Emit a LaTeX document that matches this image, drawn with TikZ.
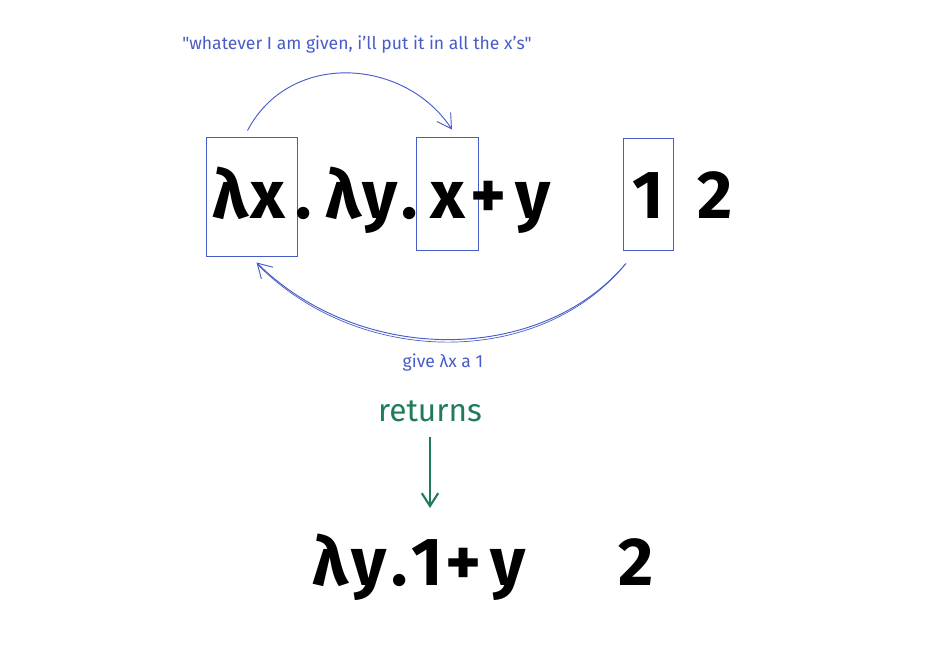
\documentclass[tikz,border=0pt]{standalone}
\usepackage{fontspec}
\setmainfont{Fira Sans}
\usetikzlibrary{arrows.meta,calc}
\definecolor{sketchblue}{RGB}{72,92,200}
\definecolor{sketchgreen}{RGB}{30,125,88}
\tikzset{
  big/.style={font=\fontsize{58}{58}\selectfont\bfseries, inner sep=0pt, anchor=base, text=black},
  holder/.style={draw=sketchblue, line width=0.8pt, inner sep=0pt},
  note/.style={font=\fontsize{15}{17}\selectfont, text=sketchblue, inner sep=1pt},
  link/.style={draw=sketchblue, line width=0.8pt, -{Straight Barb[length=12pt,width=14pt,line width=0.8pt]}},
  ret/.style={draw=sketchgreen, line width=1.8pt, -{Straight Barb[length=11pt,width=14pt,line width=1.8pt]}}
}
\begin{document}
\begin{tikzpicture}[x=0.03cm,y=-0.03cm]
\useasboundingbox (0,0) rectangle (940,670);
% boxes
\node[holder, minimum width=2.73cm, minimum height=3.57cm] (b1) at (251.5,196.5) {};
\node[holder, minimum width=1.86cm, minimum height=3.39cm] (b2) at (447,193.5) {};
\node[holder, minimum width=1.5cm, minimum height=3.36cm] (b3) at (648,194) {};
% top expression
\node[big] (t1) at (230,218) {λ};
\node[big] (t2) at (268,218) {x};
\node[big] (t3) at (304,218) {.};
\node[big] (t4) at (343,218) {λ};
\node[big] (t5) at (380,218) {y};
\node[big] (t6) at (410,218) {.};
\node[big] (t7) at (448,218) {x};
\node[big] (t8) at (489,218) {+};
\node[big] (t9) at (533,218) {y};
\node[big] (t10) at (648,218) {1};
\node[big] (t11) at (715,218) {2};
% labels
\node[note] (lt) at (357,45) {\textquotedbl whatever I am given, i'll put it in all the x's\textquotedbl};
\node[note] (lb) at (443,363) {give λx a 1};
\node[font=\fontsize{27}{29}\selectfont, text=sketchgreen, inner sep=1pt] (rt) at (430,411) {returns};
% bottom expression
\node[big] (r1) at (330,585) {λ};
\node[big] (r2) at (369,585) {y};
\node[big] (r3) at (400,585) {.};
\node[big] (r4) at (427,585) {1};
\node[big] (r5) at (464,585) {+};
\node[big] (r6) at (508,585) {y};
\node[big] (r7) at (636,585) {2};
% connectors
\draw[link] ($(b1.north)+(-4,-6)$) .. controls (290,50) and (405,58) .. ($(b2.north)+(5,-7)$);
\draw[link] ($(b3.south)+(-22,13)$) .. controls (540,365) and (360,365) .. ($(b1.south)+(5,6)$);
\draw[sketchblue, line width=0.6pt] ($(b3.south)+(-23,14)$) .. controls (540,368) and (360,368) .. ($(b1.south)+(6,8)$);
\coordinate (retend) at (430,508);
\draw[ret] ($(rt.south)+(0,14)$) -- (retend);
\end{tikzpicture}
\end{document}
